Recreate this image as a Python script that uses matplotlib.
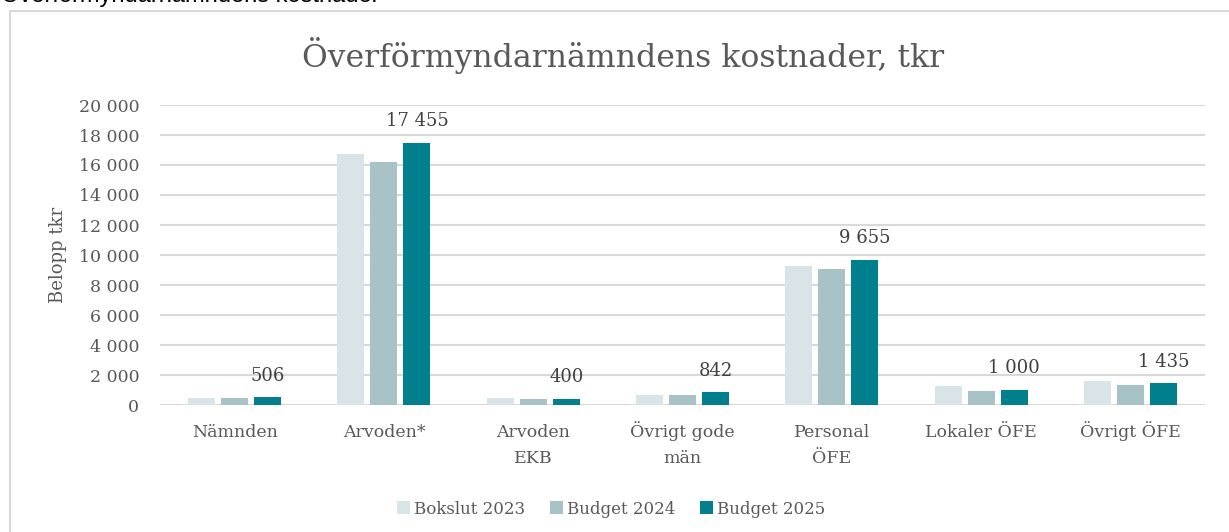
import numpy as np
import matplotlib.pyplot as plt
import matplotlib.transforms as mtransforms
from matplotlib.patches import Rectangle

# Categories and series (tkr)
categories = ['Nämnden', 'Arvoden*', 'Arvoden\nEKB', 'Övrigt gode\nmän', 'Personal\nÖFE', 'Lokaler ÖFE', 'Övrigt ÖFE']
bokslut_2023 = [460, 16730, 470, 670, 9270, 1270, 1600]
budget_2024 = [460, 16200, 400, 670, 9060, 930, 1330]
budget_2025 = [506, 17455, 400, 842, 9655, 1000, 1435]
series_names = ['Bokslut 2023', 'Budget 2024', 'Budget 2025']
colors = ['#D9E4E8', '#A7C3C7', '#00808C']

yticks = list(range(0, 20001, 2000))

def fmt(v):
    return f'{v:,}'.replace(',', ' ')

plt.rcParams['font.family'] = ['DejaVu Serif']
txt = '#595959'

fig = plt.figure(figsize=(12.29, 5.32), dpi=100)
W, H = 1229, 532

# outer frame of the chart
fig.patches.append(Rectangle((10 / W, -0.01), 1.0, 1 - 11 / H + 0.01, transform=fig.transFigure,
                             fill=False, edgecolor='#D9D9D9', linewidth=1.5))
# cut-off heading above the frame
fig.text(1 / W, 1 - 2 / H, 'Överförmyndarnämndens kostnader', family='Liberation Sans',
         fontsize=17, color='black', va='baseline', ha='left')

ax = fig.add_axes([160 / W, 1 - 405 / H, (1205 - 160) / W, 300 / H])

x = np.arange(len(categories))
bw = 0.181
off = 0.221
all_series = [bokslut_2023, budget_2024, budget_2025]
for i, (vals, name, c) in enumerate(zip(all_series, series_names, colors)):
    ax.bar(x + (i - 1) * off, vals, width=bw, color=c, label=name, zorder=3)

for xi, v in zip(x, budget_2025):
    ax.text(xi + off, v + 850, fmt(v), ha='center', va='bottom', fontsize=13, color='#404040')

ax.set_xlim(-0.5, len(categories) - 0.5)
ax.set_ylim(0, 20000)
ax.set_yticks(yticks)
ax.set_yticklabels([fmt(t) for t in yticks], fontsize=12.5, color=txt)
ax.set_xticks(x)
ax.set_xticklabels([])
ax.tick_params(axis='both', length=0)
ax.tick_params(axis='y', pad=15)

# category labels, each line on its own baseline
trans = mtransforms.blended_transform_factory(ax.transData, fig.transFigure)
for xi, lab in zip(x, categories):
    for k, line in enumerate(lab.split('\n')):
        ax.text(xi, 1 - (437 + 26 * k) / H, line, transform=trans, ha='center', va='baseline',
                fontsize=12.5, color=txt)

ax.grid(axis='y', color='#D9D9D9', linewidth=1.5, zorder=0)
for s in ax.spines.values():
    s.set_visible(False)
ax.set_ylabel('Belopp tkr', fontsize=13, color=txt, labelpad=8)

fig.text(623 / W, 1 - 55 / H, 'Överförmyndarnämndens kostnader, tkr', ha='center', va='center',
         fontsize=22.7, color=txt)

fig.legend(loc='center', bbox_to_anchor=(611 / W, 1 - 509 / H), ncol=3, frameon=False,
           fontsize=12, handlelength=0.8, handleheight=0.8, handletextpad=0.2, columnspacing=1.5,
           labelcolor=txt)

fig.savefig('out.png', dpi=100)
